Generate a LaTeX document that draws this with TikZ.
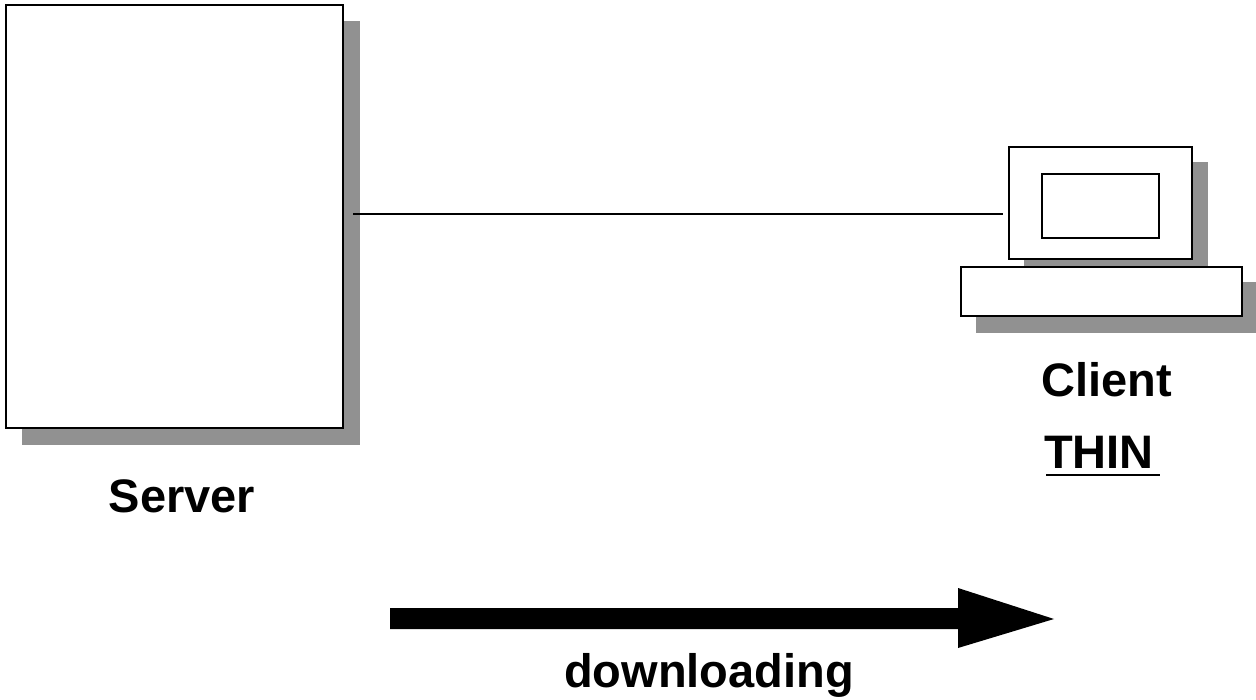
\documentclass[tikz,border=0pt]{standalone}
\usepackage{fontspec}
\setmainfont{Liberation Sans}
\definecolor{shade}{HTML}{919191}
\begin{document}
\begin{tikzpicture}[x=1pt,y=-1pt,
  box/.style={draw=black,fill=white,line width=2.2pt},
  shadow/.style={fill=shade,draw=none},
  lab/.style={font=\bfseries\fontsize{47}{47}\selectfont,inner sep=0pt,anchor=base}]
\useasboundingbox (0,0) rectangle (1256,700);
\fill[white] (0,0) rectangle (1256,700);
\fill[shadow] (22,21) rectangle (360,445);
\draw[box] (6,5) rectangle (343,428);
\fill[shadow] (1024,162) rectangle (1208,275);
\draw[box] (1009,147) rectangle (1192,259);
\draw[box] (1042,174) rectangle (1159,238);
\fill[shadow] (976,282) rectangle (1256,333);
\draw[box] (961,267) rectangle (1242,316);
\coordinate (a) at (353,214);
\coordinate (b) at (1003,214);
\draw[line width=2.5pt] (a) -- (b);
\node[lab] (server) at (182,512) {Server};
\node[lab] (client) at (1107,397) {Client};
\node[lab] (thin) at (1099,468) {THIN};
\coordinate (u1) at (1046,475);
\coordinate (u2) at (1160,475);
\draw[line width=2.5pt] (u1) -- (u2);
\node[lab] (down) at (709,687) {downloading};
\fill[black] (385,608) ++(5,0) -- (809+149,608) -- (958,588) -- (1054,619) -- (958,648) -- (958,629) -- (390,629) -- cycle;
\end{tikzpicture}
\end{document}
